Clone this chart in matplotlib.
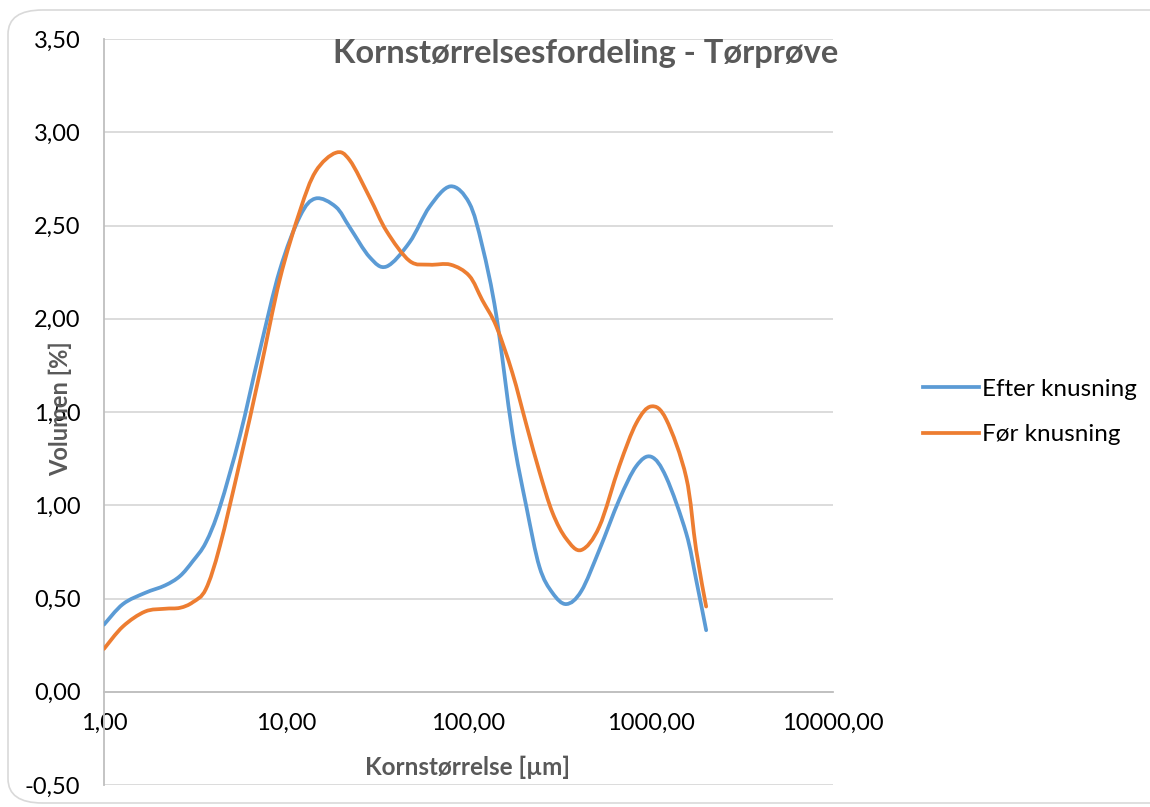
import numpy as np
import matplotlib.pyplot as plt
from matplotlib.path import Path
from matplotlib.patches import PathPatch, FancyBboxPatch
from matplotlib.lines import Line2D
from matplotlib.ticker import FuncFormatter, FixedLocator, NullLocator

plt.rcParams['font.family'] = ['Lato', 'DejaVu Sans']

# kornstørrelse (µm) og volumen (%)
storrelse = [1.00, 1.27, 1.68, 2.16, 2.61, 3.07, 3.62, 4.32, 5.56, 7.16, 9.21, 11.9,
             14.5, 18.7, 22.3, 28.7, 35.5, 47.5, 61.1, 79.7, 101, 119, 142, 174,
             208, 245, 289, 344, 416, 522, 672, 833, 1006, 1216, 1565, 1775, 2014]
efter = [0.36, 0.47, 0.53, 0.57, 0.62, 0.70, 0.80, 0.99, 1.37, 1.83, 2.26, 2.55,
         2.645, 2.60, 2.49, 2.33, 2.28, 2.41, 2.60, 2.71, 2.62, 2.39, 2.02, 1.39,
         0.99, 0.67, 0.53, 0.47, 0.54, 0.76, 1.03, 1.21, 1.26, 1.15, 0.85, 0.60, 0.33]
foer = [0.23, 0.35, 0.43, 0.445, 0.45, 0.48, 0.55, 0.78, 1.23, 1.71, 2.21, 2.58,
        2.79, 2.89, 2.85, 2.65, 2.47, 2.31, 2.29, 2.29, 2.23, 2.10, 1.96, 1.71,
        1.43, 1.18, 0.96, 0.82, 0.76, 0.885, 1.21, 1.44, 1.53, 1.46, 1.15, 0.76, 0.457]

serier = [("Efter knusning", efter, "#5B9BD5"), ("Før knusning", foer, "#ED7D31")]
y_ticks = [-0.5, 0, 0.5, 1.0, 1.5, 2.0, 2.5, 3.0, 3.5]
x_ticks = [1, 10, 100, 1000, 10000]


def glat_kurve(x, y):
    # bezier-glatning i log10(x), samme princip som Excels "udjævnet linje"
    p = np.column_stack([np.log10(x), y])
    n = len(p)
    verts = [p[0]]
    codes = [Path.MOVETO]
    for i in range(n - 1):
        p0 = p[max(i - 1, 0)]
        p1 = p[i]
        p2 = p[i + 1]
        p3 = p[min(i + 2, n - 1)]
        verts += [p1 + (p2 - p0) / 6, p2 - (p3 - p1) / 6, p2]
        codes += [Path.CURVE4] * 3
    verts = np.array(verts)
    verts[:, 0] = 10 ** verts[:, 0]
    return Path(verts, codes)


fig = plt.figure(figsize=(11.5, 8.07), dpi=100)
W, H = 1150, 807
ax = fig.add_axes([104 / W, 1 - 785 / H, 729 / W, 746 / H])

# afrundet ramme om diagramområdet
fig.patches.append(FancyBboxPatch((8 / W, 4 / H), 1.2, 1 - 14 / H,
                                  boxstyle="round,pad=0,rounding_size=0.03",
                                  transform=fig.transFigure, fill=False,
                                  edgecolor="#D9D9D9", lw=1.2))

ax.set_xscale('log')
ax.set_xlim(1, 10000)
ax.set_ylim(-0.5, 3.5)

for navn, v, farve in serier:
    ax.add_patch(PathPatch(glat_kurve(storrelse, v), fill=False, edgecolor=farve,
                           lw=2.7, capstyle='round', joinstyle='round', zorder=3))

ax.yaxis.set_major_locator(FixedLocator(y_ticks))
ax.xaxis.set_major_locator(FixedLocator(x_ticks))
ax.xaxis.set_minor_locator(NullLocator())
komma = FuncFormatter(lambda v, pos: f"{v:.2f}".replace('.', ','))
ax.yaxis.set_major_formatter(komma)
ax.xaxis.set_major_formatter(komma)
ax.grid(axis='y', color='#D9D9D9', lw=1.3)
ax.set_axisbelow(True)

for s in ['top', 'right']:
    ax.spines[s].set_visible(False)
ax.spines['bottom'].set_position(('data', 0))
ax.spines['bottom'].set_color('#BFBFBF')
ax.spines['left'].set_color('#BFBFBF')
ax.spines['bottom'].set_linewidth(1.3)
ax.spines['left'].set_linewidth(1.3)
ax.tick_params(axis='both', length=0, labelsize=17, colors='black')
ax.tick_params(axis='y', pad=17)
ax.tick_params(axis='x', pad=15)

ax.text(0.661, 0.981, "Kornstørrelsesfordeling - Tørprøve", transform=ax.transAxes,
        ha='center', va='center', fontsize=23.5, fontweight='bold', color='#595959')
ax.text(-0.060, 0.505, "Volumen [%]", transform=ax.transAxes, rotation=90,
        ha='center', va='center', fontsize=17, fontweight='bold', color='#595959')
ax.text(0.499, 0.024, "Kornstørrelse [µm]", transform=ax.transAxes,
        ha='center', va='center', fontsize=17.5, fontweight='bold', color='#595959')

handles = [Line2D([], [], color=f, lw=2.7) for _, _, f in serier]
fig.legend(handles, [n for n, _, _ in serier], loc='center left',
           bbox_to_anchor=(923 / W, 1 - 412 / H), frameon=False, fontsize=17.5,
           handlelength=2.3, handletextpad=0.12, labelspacing=1.0,
           borderpad=0, borderaxespad=0)

fig.savefig('out.png', dpi=100)
